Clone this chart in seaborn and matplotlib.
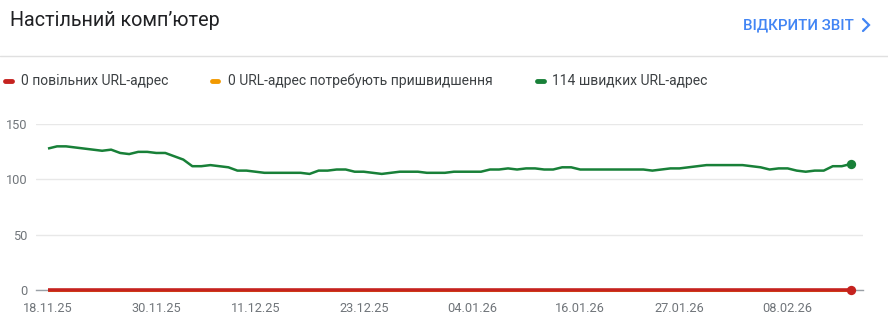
import numpy as np
import pandas as pd
import matplotlib
matplotlib.use("Agg")
import matplotlib.pyplot as plt
from matplotlib.lines import Line2D
import seaborn as sns

# ---------------- data ----------------
start_date = "2025-11-18"
fast_urls = [128, 130, 130, 129, 128, 127, 126, 127, 124, 123,
             125, 125, 124, 124, 121, 118, 112, 112, 113, 112,
             111, 108, 108, 107, 106, 106, 106, 106, 106, 105,
             108, 108, 109, 109, 107, 107, 106, 105, 106, 107,
             107, 107, 106, 106, 106, 107, 107, 107, 107, 109,
             109, 110, 109, 110, 110, 109, 109, 111, 111, 109,
             109, 109, 109, 109, 109, 109, 109, 108, 109, 110,
             110, 111, 112, 113, 113, 113, 113, 113, 112, 111,
             109, 110, 110, 108, 107, 108, 108, 112, 112, 114]
slow_urls = [0] * len(fast_urls)
improve_urls = [0] * len(fast_urls)
x_tick_labels = ["18.11.25", "30.11.25", "11.12.25", "23.12.25",
                 "04.01.26", "16.01.26", "27.01.26", "08.02.26"]
y_ticks = [0, 50, 100, 150]
legend_labels = ["0 повільних URL-адрес",
                 "0 URL-адрес потребують пришвидшення",
                 "114 швидких URL-адрес"]
title = "Настільний комп’ютер"
link_text = "ВІДКРИТИ ЗВІТ"

RED = "#c5221f"
ORANGE = "#f29900"
GREEN = "#188038"

dates = pd.date_range(start_date, periods=len(fast_urls), freq="D")
df = pd.DataFrame({"date": dates, "fast": fast_urls,
                   "slow": slow_urls, "improve": improve_urls})

sns.set_theme(style="white")
plt.rcParams["font.family"] = ["Roboto", "DejaVu Sans"]

W, H = 888, 329
fig = plt.figure(figsize=(W / 100, H / 100), dpi=100)

def fx(px):
    return px / W

def fy(py):
    return 1 - py / H

ax = fig.add_axes([fx(36), fy(289.7), fx(863) - fx(36), fy(124.3) - fy(289.7)])

sns.lineplot(data=df, x="date", y="improve", ax=ax, color=ORANGE, lw=2.2)
sns.lineplot(data=df, x="date", y="slow", ax=ax, color=RED, lw=2.6)
sns.lineplot(data=df, x="date", y="fast", ax=ax, color=GREEN, lw=1.8)
for l in ax.lines:
    l.set_clip_on(False)
    l.set_zorder(4)
    l.set_solid_capstyle("butt")
    l.set_solid_joinstyle("round")

last = df.iloc[[-1]]
ax.scatter(last["date"], last["slow"], s=45, color=RED, zorder=6, clip_on=False, lw=0)
ax.scatter(last["date"], last["fast"], s=45, color=GREEN, zorder=6, clip_on=False, lw=0)

day = pd.Timedelta(days=1)
ax.set_xlim(dates[0] - 1.33 * day, dates[-1] + 1.35 * day)
ax.set_ylim(0, 150)

ax.set_yticks(y_ticks)
ax.set_yticklabels([str(v) for v in y_ticks])
tick_pos = [pd.to_datetime(t, format="%d.%m.%y") for t in x_tick_labels]
ax.set_xticks(tick_pos)
ax.set_xticklabels(x_tick_labels)
ax.tick_params(axis="both", length=0, labelsize=9.2, colors="#70757a")
ax.tick_params(axis="y", pad=6)
ax.tick_params(axis="x", pad=9)
ax.set_xlabel("")
ax.set_ylabel("")

ax.grid(axis="y", color="#e8e8e8", lw=1)
ax.grid(axis="x", visible=False)
ax.set_axisbelow(True)
for s in ["top", "left", "right"]:
    ax.spines[s].set_visible(False)
ax.spines["bottom"].set_color("#9aa0a6")
ax.spines["bottom"].set_linewidth(1)
ax.spines["bottom"].set_zorder(1)

# header
fig.text(fx(10), fy(21), title, fontsize=14.2, color="#202124", va="center", ha="left")
fig.text(fx(854), fy(25), link_text, fontsize=10.8, color="#4285f4", va="center",
         ha="right", fontweight="medium")
fig.add_artist(Line2D([fx(863), fx(869), fx(863)], [fy(19), fy(25), fy(31)],
                      color="#4285f4", lw=1.6, solid_joinstyle="miter"))
fig.add_artist(Line2D([0, 1], [fy(56), fy(56)], color="#e0e0e0", lw=1))

# legend
leg = [(3, 14, 21, RED), (210, 220, 228, ORANGE), (535, 546, 552, GREEN)]
for (x0, x1, xt, c), lab in zip(leg, legend_labels):
    fig.add_artist(Line2D([fx(x0 + 2), fx(x1 - 2)], [fy(81), fy(81)], color=c,
                          lw=3.5, solid_capstyle="round"))
    fig.text(fx(xt), fy(81), lab, fontsize=10, color="#3c4043", va="center", ha="left")

fig.savefig("out.png", dpi=100, facecolor="white")
